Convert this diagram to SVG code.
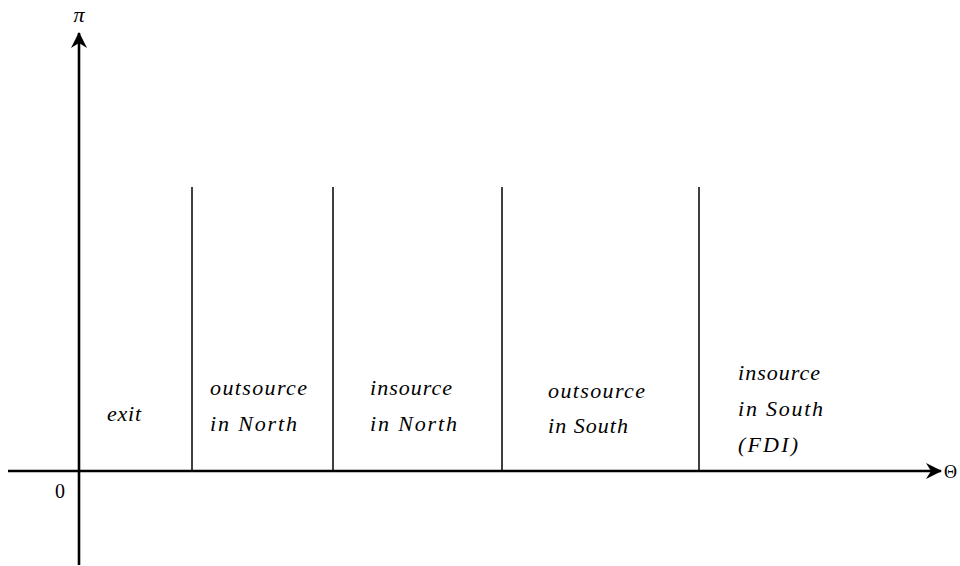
<svg xmlns="http://www.w3.org/2000/svg" width="960" height="566" viewBox="0 0 960 566">
<style>
.ax{stroke:#000;stroke-width:2.6;fill:none}
.div{stroke:#000;stroke-width:1.5}
.lbl{font-family:"Liberation Serif","DejaVu Serif",serif;font-style:italic;font-size:22px;fill:#000}
.sym{font-family:"Liberation Serif","DejaVu Serif",serif;font-size:20px;fill:#000}
</style>
<defs>
<marker id="ah" viewBox="0 0 16 16" refX="15" refY="8" markerWidth="16" markerHeight="16" markerUnits="userSpaceOnUse" orient="auto">
<path d="M0,0 L16,8 L0,16 L5,8 Z" fill="#000"/>
</marker>
</defs>
<g id="connectors">
<line class="ax" x1="79" y1="565" x2="79" y2="33" marker-end="url(#ah)"/>
<line class="ax" x1="8" y1="471" x2="941" y2="471" marker-end="url(#ah)"/>
<line class="div" x1="192" y1="187" x2="192" y2="471"/>
<line class="div" x1="333" y1="187" x2="333" y2="471"/>
<line class="div" x1="502" y1="187" x2="502" y2="471"/>
<line class="div" x1="699" y1="187" x2="699" y2="471"/>
</g>
<g id="axis-labels">
<text class="lbl" x="79" y="22" text-anchor="middle">π</text>
<text class="sym" x="944" y="478" style="font-size:18px">Θ</text>
<text class="sym" x="55" y="498">0</text>
</g>
<g id="exit"><text class="lbl" x="107" y="421" textLength="34">exit</text></g>
<g id="outsource-north">
<text class="lbl" x="210" y="395" textLength="97">outsource</text>
<text class="lbl" x="210" y="431" textLength="87">in North</text>
</g>
<g id="insource-north">
<text class="lbl" x="370" y="395" textLength="82">insource</text>
<text class="lbl" x="370" y="431" textLength="87">in North</text>
</g>
<g id="outsource-south">
<text class="lbl" x="548" y="398" textLength="97">outsource</text>
<text class="lbl" x="548" y="433" textLength="80">in South</text>
</g>
<g id="insource-south">
<text class="lbl" x="738" y="380" textLength="82">insource</text>
<text class="lbl" x="738" y="416" textLength="85">in South</text>
<text class="lbl" x="738" y="452" textLength="60">(FDI)</text>
</g>
</svg>
